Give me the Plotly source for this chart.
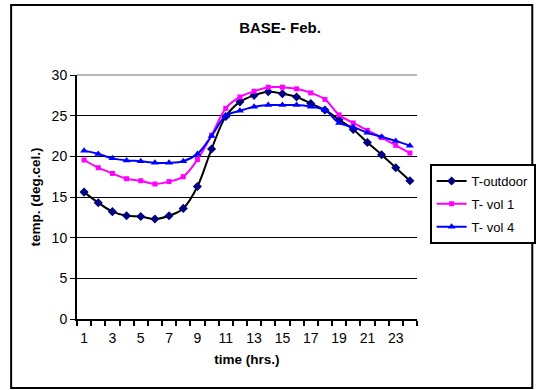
import plotly.graph_objects as go

hours = list(range(1, 25))
tick_vals = list(range(1, 24, 2))
tick_text = [str(v) for v in tick_vals]

t_outdoor = [15.6, 14.3, 13.2, 12.7, 12.6, 12.3, 12.7, 13.6, 16.3, 20.9, 24.9, 26.7,
             27.5, 27.95, 27.7, 27.3, 26.5, 25.7, 24.5, 23.3, 21.7, 20.2, 18.6, 17.0]
t_vol1 = [19.55, 18.6, 17.9, 17.25, 17.0, 16.6, 16.9, 17.5, 19.6, 22.6, 25.9, 27.3,
          28.0, 28.5, 28.5, 28.3, 27.8, 27.0, 25.1, 24.1, 23.2, 22.3, 21.35, 20.4]
t_vol4 = [20.7, 20.3, 19.75, 19.5, 19.4, 19.2, 19.2, 19.4, 20.3, 22.5, 25.0, 25.6,
          26.1, 26.3, 26.3, 26.3, 26.1, 25.7, 24.1, 23.6, 22.9, 22.4, 21.9, 21.3]

FONT = "Liberation Sans, Arial, sans-serif"

fig = go.Figure()
fig.add_trace(go.Scatter(
    x=hours, y=t_outdoor, name="T-outdoor", mode="lines+markers", legendgroup="a",
    line=dict(color="black", width=2, shape="spline", smoothing=1),
    marker=dict(symbol="diamond", size=7, color="#000080"),
))
fig.add_trace(go.Scatter(
    x=hours, y=t_vol1, name="T- vol 1", mode="lines+markers", legendgroup="b",
    line=dict(color="#FF00FF", width=2, shape="spline", smoothing=1),
    marker=dict(symbol="square", size=5, color="#FF00FF"),
))
fig.add_trace(go.Scatter(
    x=hours, y=t_vol4, name="T- vol 4", mode="lines+markers", legendgroup="c",
    line=dict(color="#0000FF", width=2, shape="spline", smoothing=1),
    marker=dict(symbol="triangle-up", size=7, color="#0000FF"),
))

L, R, T, B = 77, 120, 75, 71
W, H = 548, 390
pw, ph = W - L - R, H - T - B

def px2x(px):
    return (px - L) / pw

def py2y(py):
    return (H - B - py) / ph

fig.update_layout(
    width=W, height=H,
    margin=dict(l=L, r=R, t=T, b=B),
    paper_bgcolor="white", plot_bgcolor="white",
    font=dict(family=FONT, size=14, color="black"),
    title=dict(text="<b>BASE- Feb.</b>", x=280 / W, xanchor="center",
               y=1 - 28 / H, yanchor="middle", font=dict(size=15)),
    showlegend=True,
    legend=dict(x=px2x(441), y=py2y(164), xanchor="left", yanchor="top",
                bgcolor="white", bordercolor="black", borderwidth=2,
                font=dict(size=13), tracegroupgap=3, itemwidth=30),
    xaxis=dict(
        range=[0.5, 24.5], tickmode="array", tickvals=tick_vals, ticktext=tick_text,
        ticks="", showgrid=False, zeroline=False, ticklabelstandoff=5,
        showline=True, linecolor="black", linewidth=2,
        minor=dict(tick0=0.5, dtick=1, ticks="outside", ticklen=5, tickwidth=2,
                   tickcolor="black", showgrid=False),
        title=dict(text="<b>time (hrs.)</b>", font=dict(size=13.5), standoff=10),
        tickfont=dict(size=14),
    ),
    yaxis=dict(
        range=[0, 30], tickmode="array", tickvals=[0, 5, 10, 15, 20, 25, 30],
        ticks="outside", ticklen=5, tickwidth=1, tickcolor="black",
        showgrid=True, gridcolor="black", gridwidth=1.2, zeroline=False,
        showline=True, linecolor="black", linewidth=2,
        title=dict(text="<b>temp. (deg.cel.)</b>", font=dict(size=13.5), standoff=8),
        tickfont=dict(size=14),
    ),
    shapes=[
        dict(type="line", xref="paper", yref="paper", x0=0, x1=1, y0=1, y1=1,
             line=dict(color="#A0A0A0", width=1.5), layer="above"),
        dict(type="rect", xref="paper", yref="paper",
             x0=px2x(9), x1=px2x(547), y0=py2y(388), y1=py2y(5),
             line=dict(color="black", width=2), layer="above"),
    ],
)

fig.write_html("out.html")
